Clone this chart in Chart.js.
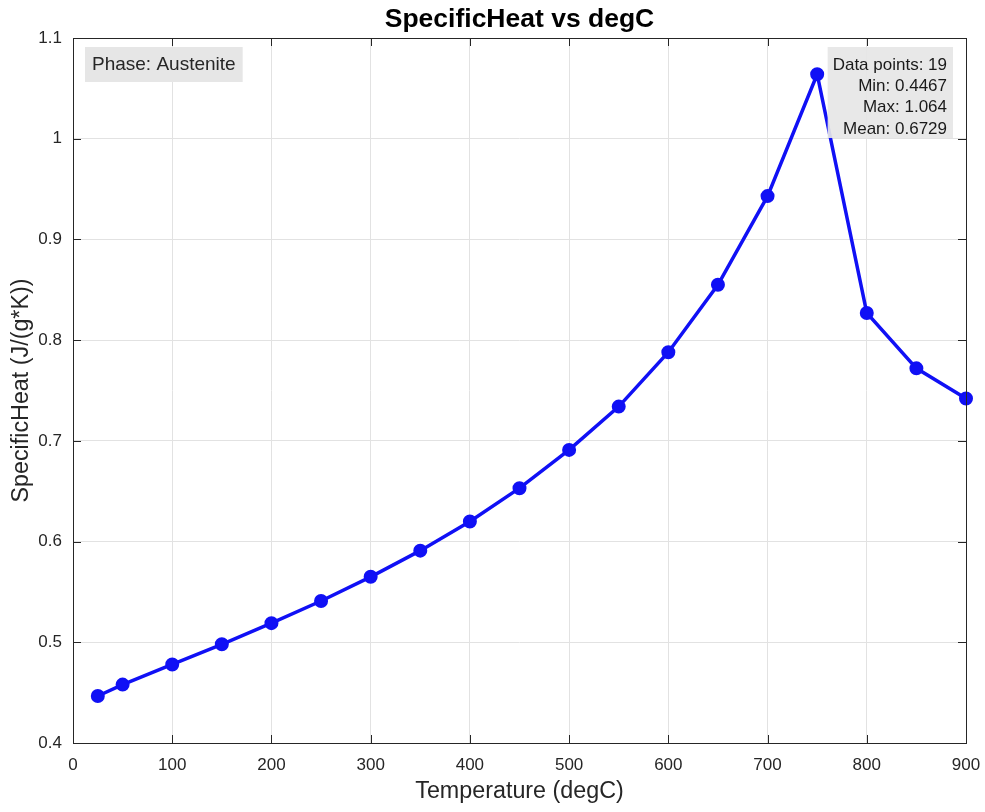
<!DOCTYPE html>
<html>
<head>
<meta charset="utf-8">
<script src="https://cdn.jsdelivr.net/npm/chart.js@4/dist/chart.umd.min.js"></script>
<style>
  html, body { margin: 0; padding: 0; background: #fff; }
  #chart { display: block; }
</style>
</head>
<body>
<canvas id="chart" width="985" height="812"></canvas>
<script>
const temperatures = [25, 50, 100, 150, 200, 250, 300, 350, 400, 450, 500, 550, 600, 650, 700, 750, 800, 850, 900]
const specificHeat = [0.4467, 0.458, 0.478, 0.498, 0.519, 0.541, 0.565, 0.591, 0.620, 0.653, 0.691, 0.734, 0.788, 0.855, 0.943, 1.064, 0.827, 0.772, 0.742]
const xTicks = [0, 100, 200, 300, 400, 500, 600, 700, 800, 900]
const yTicks = [0.4, 0.5, 0.6, 0.7, 0.8, 0.9, 1.0, 1.1]
const phaseLabel = 'Phase: Austenite'

const FONT = '"Liberation Sans", Arial, Helvetica, sans-serif'
const AXIS_COLOR = '#262626'
const LINE_COLOR = '#1010f5'

function fmt4(v) {
  return String(Number(v.toPrecision(4)))
}

const minVal = Math.min(...specificHeat)
const maxVal = Math.max(...specificHeat)
const meanVal = specificHeat.reduce((a, b) => a + b, 0) / specificHeat.length
const statsLines = [
  'Data points: ' + specificHeat.length,
  'Min: ' + fmt4(minVal),
  'Max: ' + fmt4(maxVal),
  'Mean: ' + fmt4(meanVal)
]

// box around the axes, inward tick marks and the two text boxes
const framePlugin = {
  id: 'frame',
  afterDraw(chart) {
    const { ctx, chartArea: a, scales } = chart
    const tickLen = 8
    ctx.save()
    ctx.strokeStyle = AXIS_COLOR
    ctx.lineWidth = 1
    ctx.beginPath()
    xTicks.forEach(t => {
      const px = Math.round(scales.x.getPixelForValue(t)) + 0.5
      ctx.moveTo(px, a.bottom); ctx.lineTo(px, a.bottom - tickLen)
      ctx.moveTo(px, a.top); ctx.lineTo(px, a.top + tickLen)
    })
    yTicks.forEach(t => {
      const py = Math.round(scales.y.getPixelForValue(t)) + 0.5
      ctx.moveTo(a.left, py); ctx.lineTo(a.left + tickLen, py)
      ctx.moveTo(a.right, py); ctx.lineTo(a.right - tickLen, py)
    })
    ctx.stroke()
    ctx.strokeRect(Math.round(a.left) + 0.5, Math.round(a.top) + 0.5,
      Math.round(a.right - a.left), Math.round(a.bottom - a.top))

    // phase label, top left
    ctx.font = '19px ' + FONT
    ctx.textBaseline = 'middle'
    const pw = ctx.measureText(phaseLabel).width
    ctx.fillStyle = '#e6e6e6'
    ctx.fillRect(a.left + 12, a.top + 9, pw + 14, 35)
    ctx.fillStyle = AXIS_COLOR
    ctx.textAlign = 'left'
    ctx.fillText(phaseLabel, a.left + 19, a.top + 27)

    // summary statistics, top right
    ctx.font = '17px ' + FONT
    const sw = Math.max(...statsLines.map(s => ctx.measureText(s).width))
    ctx.fillStyle = 'rgba(230,230,230,0.92)'
    ctx.fillRect(a.right - 19 - sw - 5, a.top + 9, sw + 11, 91)
    ctx.fillStyle = '#1a1a1a'
    ctx.textAlign = 'right'
    statsLines.forEach((s, i) => {
      ctx.fillText(s, a.right - 19, a.top + 27 + i * 21.3)
    })
    ctx.restore()
  }
}

const config = {
  type: 'line',
  data: {
    datasets: [{
      label: 'SpecificHeat',
      data: temperatures.map((t, i) => ({ x: t, y: specificHeat[i] })),
      borderColor: LINE_COLOR,
      backgroundColor: LINE_COLOR,
      borderWidth: 3.5,
      pointRadius: 6,
      pointBorderWidth: 2,
      pointBackgroundColor: LINE_COLOR,
      pointBorderColor: LINE_COLOR,
      tension: 0,
      clip: false
    }]
  },
  options: {
    responsive: false,
    animation: false,
    devicePixelRatio: 1,
    layout: { padding: { top: 0, right: 19, bottom: 0, left: 0 } },
    plugins: {
      legend: { display: false },
      tooltip: { enabled: false },
      title: {
        display: true,
        fullSize: false,
        text: 'SpecificHeat vs degC',
        color: '#000',
        font: { family: FONT, size: 26.5, weight: 'bold', lineHeight: 1.2 },
        padding: { top: 4, bottom: 2.2 }
      }
    },
    scales: {
      x: {
        type: 'linear',
        min: 0,
        max: 900,
        afterBuildTicks(scale) { scale.ticks = xTicks.map(v => ({ value: v })) },
        afterFit(scale) {
          scale.height = 69
          scale.paddingLeft = 0
          scale.paddingRight = 0
        },
        grid: { color: '#e2e2e2', drawTicks: false },
        border: { display: false },
        ticks: {
          color: AXIS_COLOR,
          padding: 12,
          font: { family: FONT, size: 17 },
          callback: v => String(v)
        },
        title: {
          display: true,
          text: 'Temperature (degC)',
          color: AXIS_COLOR,
          font: { family: FONT, size: 23.3 },
          padding: { top: 0, bottom: 6 }
        }
      },
      y: {
        type: 'linear',
        min: 0.4,
        max: 1.1,
        afterBuildTicks(scale) { scale.ticks = yTicks.map(v => ({ value: v })) },
        afterFit(scale) { scale.width = 73 },
        grid: { color: '#e2e2e2', drawTicks: false },
        border: { display: false },
        ticks: {
          color: AXIS_COLOR,
          padding: 11,
          font: { family: FONT, size: 17 },
          callback: v => String(Math.round(v * 10) / 10)
        },
        title: {
          display: true,
          text: 'SpecificHeat (J/(g*K))',
          color: AXIS_COLOR,
          font: { family: FONT, size: 23.3 },
          padding: { top: 8, bottom: 0 }
        }
      }
    }
  },
  plugins: [framePlugin]
}

new Chart(document.getElementById('chart'), config)
</script>
</body>
</html>
